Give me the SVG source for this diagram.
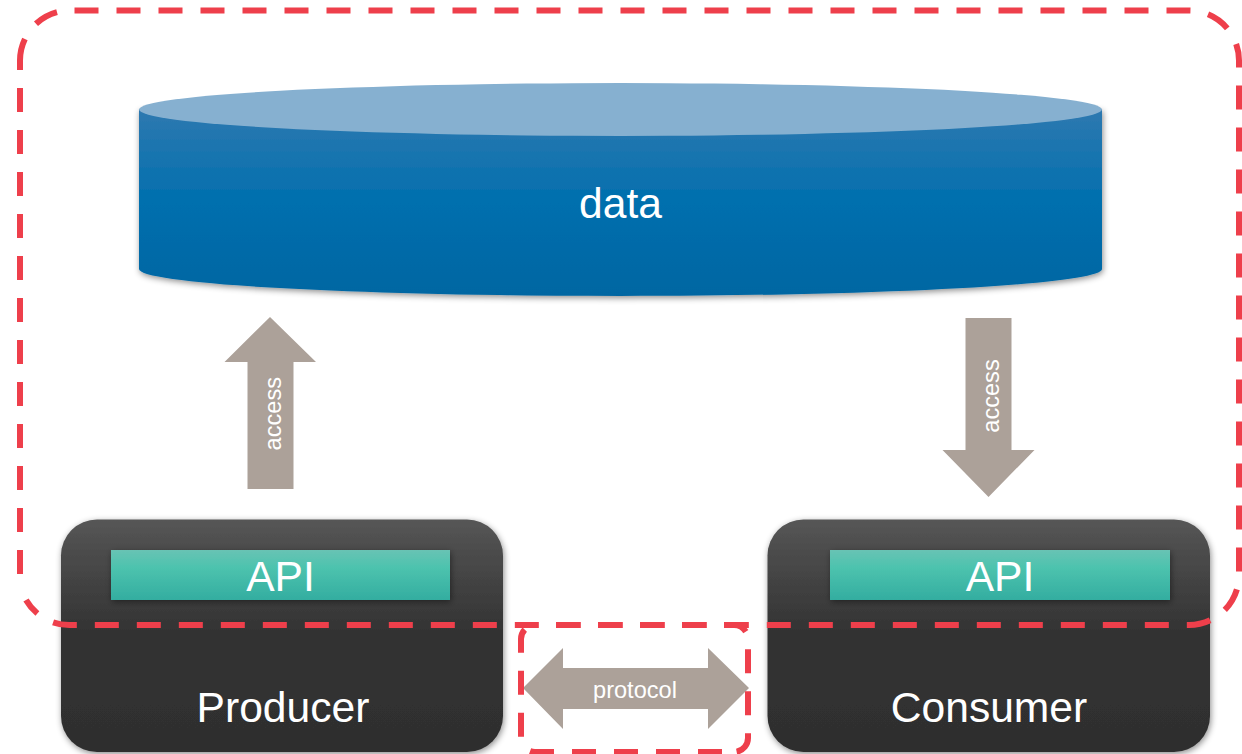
<svg xmlns="http://www.w3.org/2000/svg" width="1242" height="754" viewBox="0 0 1242 754">
<style>
text{font-family:"Liberation Sans",Arial,sans-serif;fill:#fff;text-anchor:middle}
.big{font-size:42.600px}
.small{font-size:23.600px}
.arrow{fill:#aca199}
.seg{fill:none;stroke:#ee3f4b;stroke-width:6}
.dash{stroke-dasharray:24 18}
</style>
<defs>
<linearGradient id="body" x1="0" y1="0" x2="0" y2="1"><stop offset="0" stop-color="#2f79b0"/><stop offset=".5" stop-color="#006fae"/><stop offset="1" stop-color="#0066a2"/></linearGradient>
<linearGradient id="dark" x1="0" y1="0" x2="0" y2="1"><stop offset="0" stop-color="#565656"/><stop offset=".48" stop-color="#333333"/><stop offset="1" stop-color="#2e2e2e"/></linearGradient>
<linearGradient id="teal" x1="0" y1="0" x2="0" y2="1"><stop offset="0" stop-color="#68c3b4"/><stop offset=".35" stop-color="#4dc3ae"/><stop offset="1" stop-color="#33ada0"/></linearGradient>
<filter id="sh" x="-5%" y="-10%" width="110%" height="125%"><feDropShadow dx="1" dy="2" stdDeviation="3" flood-color="#000" flood-opacity=".45"/></filter>
</defs>
<rect width="1242" height="754" fill="#fff"/>
<g id="data">
<path d="M139 109V269C139 284 355 296 620.500 296S1102 284 1102 269V109Z" fill="url(#body)" filter="url(#sh)"/>
<ellipse cx="620.500" cy="109.500" rx="481.500" ry="26.500" fill="#86b0d0"/>
<text class="big" x="620.500" y="218">data</text>
</g>
<g id="producer">
<rect x="61" y="519.500" width="442" height="232.500" rx="36" fill="url(#dark)" filter="url(#sh)"/>
<rect x="111" y="550" width="339" height="50" fill="url(#teal)" filter="url(#sh)"/>
<text class="big" x="280.500" y="591">API</text>
<text class="big" x="283" y="722">Producer</text>
</g>
<g id="consumer">
<rect x="767.500" y="519.500" width="442.500" height="232.500" rx="36" fill="url(#dark)" filter="url(#sh)"/>
<rect x="830" y="550" width="340" height="50" fill="url(#teal)" filter="url(#sh)"/>
<text class="big" x="1000" y="591">API</text>
<text class="big" x="989" y="722">Consumer</text>
</g>
<g id="connectors">
<path class="arrow" d="M247.500 489V362H224.500L270 317L316 362H293.500V489Z"/>
<text class="small" transform="translate(280.500 413.700) rotate(-90)">access</text>
<path class="arrow" d="M965.500 318H1011.500V450H1034.500L988.500 497L942.500 450H965.500Z"/>
<text class="small" transform="translate(998.500 396) rotate(-90)">access</text>
<path class="arrow" d="M523 688L563 648V668H708V648L749 688L708 729V709H563V729Z"/>
<text class="small" x="635" y="698">protocol</text>
</g>
<g id="boundaries">
<path class="seg dash" d="M74.500 10.500H1189A50 50 0 0 1 1239 60.500V575A50 50 0 0 1 1189 625H70A50 50 0 0 1 26 600"/>
<path class="seg dash" d="M20 574V88"/>
<path class="seg" d="M20 70V60.500A50 50 0 0 1 24.900 39"/>
<path class="seg" d="M36 23.800A50 50 0 0 1 57 12.200"/>
<path class="seg dash" d="M556 625H734A14 14 0 0 1 748 639V738A14 14 0 0 1 734 752"/>
<path class="seg dash" d="M722 752H535A14 14 0 0 1 521 738V639A14 14 0 0 1 528 627"/>
</g>
</svg>
